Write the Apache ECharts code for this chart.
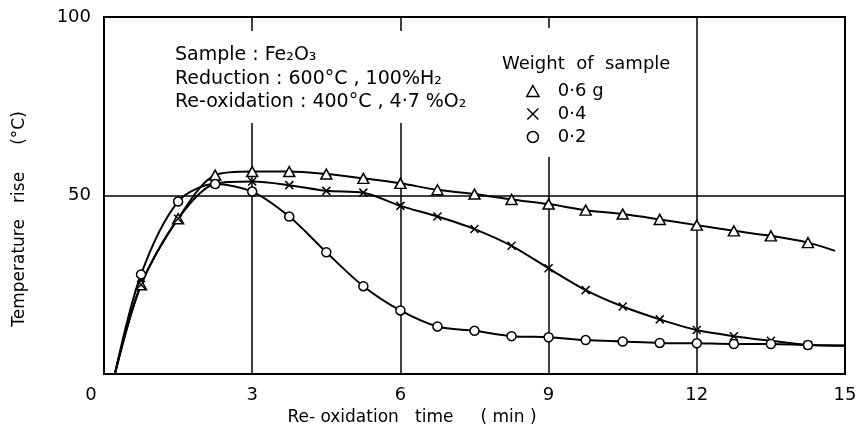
<!DOCTYPE html>
<html>
<head>
<meta charset="utf-8">
<script src="https://cdn.jsdelivr.net/npm/echarts@6/dist/echarts.min.js"></script>
<style>html,body{margin:0;padding:0;background:#fff}#c{width:861px;height:437px}</style>
</head>
<body>
<div id="c"></div>
<script>
// ---- data ----
const sampleTimes = [0.75, 1.5, 2.25, 3, 3.75, 4.5, 5.25, 6, 6.75, 7.5, 8.25, 9, 9.75, 10.5, 11.25, 12, 12.75, 13.5, 14.25];
const rise06 = [25, 43.5, 55.7, 56.7, 56.7, 56.0, 54.8, 53.4, 51.6, 50.4, 48.9, 47.6, 45.9, 44.8, 43.3, 41.7, 40.1, 38.7, 36.8];
const rise04 = [25, 43.5, 53.3, 53.9, 52.9, 51.3, 50.8, 47.1, 44.1, 40.6, 35.9, 29.6, 23.5, 18.9, 15.3, 12.3, 10.6, 9.3, 8.1];
const rise02 = [27.9, 48.3, 53.2, 51.1, 44.1, 34.1, 24.6, 17.8, 13.3, 12.1, 10.6, 10.3, 9.5, 9.1, 8.7, 8.6, 8.4, 8.4, 8.1];
// curve start / end points (no marker)
const curveStart = { '0·6 g': [0.22, 0], '0·4': [0.22, 0], '0·2': [0.22, 0] };
const curveEnd = { '0·6 g': [14.8, 34.5], '0·4': [15, 7.9], '0·2': [15, 8.0] };
const xTicks = [0, 3, 6, 9, 12, 15];
const yTicks = [0, 50, 100];
const seriesNames = ['0·6 g', '0·4', '0·2'];

const FONT = 'DejaVu Sans';
const crossPath = 'path://M0,0L10,10M10,0L0,10';
const triPath = 'path://M5,0L10,9L0,9Z';
const symbols = { '0·6 g': 'triangle', '0·4': crossPath, '0·2': 'circle' };
const legendIcons = { '0·6 g': triPath, '0·4': crossPath, '0·2': 'circle' };
const sizes = { '0·6 g': [11, 10], '0·4': 8, '0·2': 9 };
const values = { '0·6 g': rise06, '0·4': rise04, '0·2': rise02 };

function buildData(name) {
  const d = [{ value: curveStart[name], symbol: 'none' }];
  sampleTimes.forEach((t, i) => d.push([t, values[name][i]]));
  d.push({ value: curveEnd[name], symbol: 'none' });
  return d;
}

const TXT = '19px "DejaVu Sans"';
const chart = echarts.init(document.getElementById('c'), null, { renderer: 'canvas' });
chart.setOption({
  animation: false,
  backgroundColor: '#fff',
  textStyle: { fontFamily: FONT, color: '#000' },
  grid: { left: 104, right: 16, top: 17, bottom: 63, show: true, borderColor: '#000', borderWidth: 2, backgroundColor: 'transparent' },
  xAxis: {
    type: 'value', min: xTicks[0], max: xTicks[xTicks.length - 1], interval: 3,
    axisLine: { show: false }, axisTick: { show: false },
    splitLine: { show: true, lineStyle: { color: '#000', width: 1.5 } },
    axisLabel: {
      margin: 12, fontSize: 18, color: '#000', fontFamily: FONT,
      formatter: v => v === 0 ? '{z|0}' : String(v),
      rich: { z: { fontSize: 18, fontFamily: FONT, color: '#000', padding: [0, 26, 0, 0] } }
    }
  },
  yAxis: {
    type: 'value', min: yTicks[0], max: yTicks[yTicks.length - 1], interval: 50,
    axisLine: { show: false }, axisTick: { show: false },
    splitLine: { show: true, lineStyle: { color: '#000', width: 1.5 } },
    axisLabel: { margin: 13, fontSize: 18, color: '#000', fontFamily: FONT, formatter: v => v === 0 ? '' : String(v) }
  },
  legend: {
    orient: 'vertical', left: 521, top: 77, z: 200,
    itemWidth: 40, itemHeight: 11, itemGap: 5,
    selectedMode: false,
    textStyle: { fontSize: 18, fontFamily: FONT, color: '#000' },
    itemStyle: { color: '#fff', borderColor: '#000', borderWidth: 1.5 },
    data: seriesNames.map(n => ({ name: n, icon: legendIcons[n] }))
  },
  graphic: [
    { type: 'rect', z: 100, shape: { x: 166, y: 31, width: 322, height: 92 }, style: { fill: '#fff' } },
    { type: 'rect', z: 100, shape: { x: 494, y: 28, width: 195, height: 129 }, style: { fill: '#fff' } },
    { type: 'text', z: 101, x: 175, y: 55, style: { text: 'Sample : Fe₂O₃', font: TXT, fill: '#000', verticalAlign: 'middle' } },
    { type: 'text', z: 101, x: 175, y: 79, style: { text: 'Reduction : 600°C , 100%H₂', font: TXT, fill: '#000', verticalAlign: 'middle' } },
    { type: 'text', z: 101, x: 175, y: 102, style: { text: 'Re-oxidation : 400°C , 4·7 %O₂', font: TXT, fill: '#000', verticalAlign: 'middle' } },
    { type: 'text', z: 101, x: 502, y: 64, style: { text: 'Weight  of  sample', font: '18px "DejaVu Sans"', fill: '#000', verticalAlign: 'middle' } },
    { type: 'text', z: 101, x: 412, y: 418, style: { text: 'Re- oxidation   time     ( min )', font: '17px "DejaVu Sans"', fill: '#000', align: 'center', verticalAlign: 'middle' } },
    { type: 'text', z: 101, x: 20, y: 219, rotation: Math.PI / 2, style: { text: 'Temperature   rise     (°C)', font: '17px "DejaVu Sans"', fill: '#000', align: 'center', verticalAlign: 'middle' } }
  ],
  series: seriesNames.map(n => ({
    name: n, type: 'line', smooth: 0.3,
    data: buildData(n),
    symbol: symbols[n], symbolSize: sizes[n], showAllSymbol: true,
    lineStyle: { color: '#000', width: 2 },
    itemStyle: { color: '#fff', borderColor: '#000', borderWidth: 1.5 },
    emphasis: { disabled: true }, z: 3
  }))
});
</script>
</body>
</html>
